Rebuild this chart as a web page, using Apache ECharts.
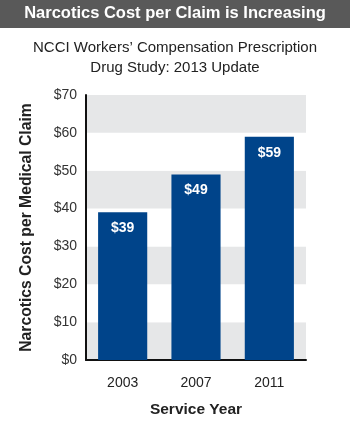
<!DOCTYPE html>
<html><head><meta charset="utf-8">
<script src="https://cdn.jsdelivr.net/npm/echarts@6/dist/echarts.min.js"></script>
<style>html,body{margin:0;padding:0;background:#fff}#c{width:350px;height:432px}</style>
</head><body><div id="c"></div>
<script>
var categories = ['2003', '2007', '2011'];
var costPerClaim = [39, 49, 59];
var yTicks = [0, 10, 20, 30, 40, 50, 60, 70];

var FF = 'Liberation Sans, Arial, sans-serif';
var chart = echarts.init(document.getElementById('c'), null, {renderer: 'canvas'});
chart.setOption({
  animation: false,
  graphic: [
    {type: 'rect', left: 0, top: 0, shape: {width: 350, height: 28}, style: {fill: '#595959'}},
    {type: 'text', left: 'center', top: 5, style: {text: 'Narcotics Cost per Claim is Increasing', fill: '#fff', font: 'bold 16.5px ' + FF}},
    {type: 'text', left: 'center', top: 40, style: {text: 'NCCI Workers\u2019 Compensation Prescription', fill: '#222', font: '15px ' + FF}},
    {type: 'text', left: 'center', top: 60, style: {text: 'Drug Study: 2013 Update', fill: '#222', font: '15px ' + FF}}
  ],
  grid: {left: 86, right: 44, top: 95, bottom: 72},
  xAxis: {
    type: 'category', data: categories,
    axisLine: {lineStyle: {color: '#111', width: 2}},
    axisTick: {show: false},
    axisLabel: {color: '#222', fontSize: 14, margin: 16, fontFamily: FF},
    name: 'Service Year', nameLocation: 'middle', nameGap: 42,
    nameTextStyle: {color: '#222', fontSize: 15.5, fontWeight: 'bold', fontFamily: FF}
  },
  yAxis: {
    type: 'value', min: 0, max: 70, interval: 10,
    axisLine: {show: true, lineStyle: {color: '#111', width: 2}},
    axisTick: {show: false},
    splitLine: {show: false},
    splitArea: {show: true, areaStyle: {color: ['#e6e7e8', '#ffffff']}},
    axisLabel: {color: '#333', fontSize: 14, margin: 9, fontFamily: FF,
      formatter: function (v) { return yTicks.indexOf(v) >= 0 ? '$' + v : ''; }},
    name: 'Narcotics Cost per Medical Claim', nameLocation: 'middle', nameGap: 51, nameRotate: 90,
    nameTextStyle: {color: '#222', fontSize: 15.7, fontWeight: 'bold', fontFamily: FF}
  },
  series: [{
    type: 'bar', data: costPerClaim, barWidth: '67%',
    itemStyle: {color: '#00448a'},
    label: {show: true, position: 'insideTop', distance: 9, color: '#fff', fontSize: 14, fontWeight: 'bold',
      fontFamily: FF, formatter: function (p) { return '$' + p.value; }}
  }]
});
</script></body></html>
